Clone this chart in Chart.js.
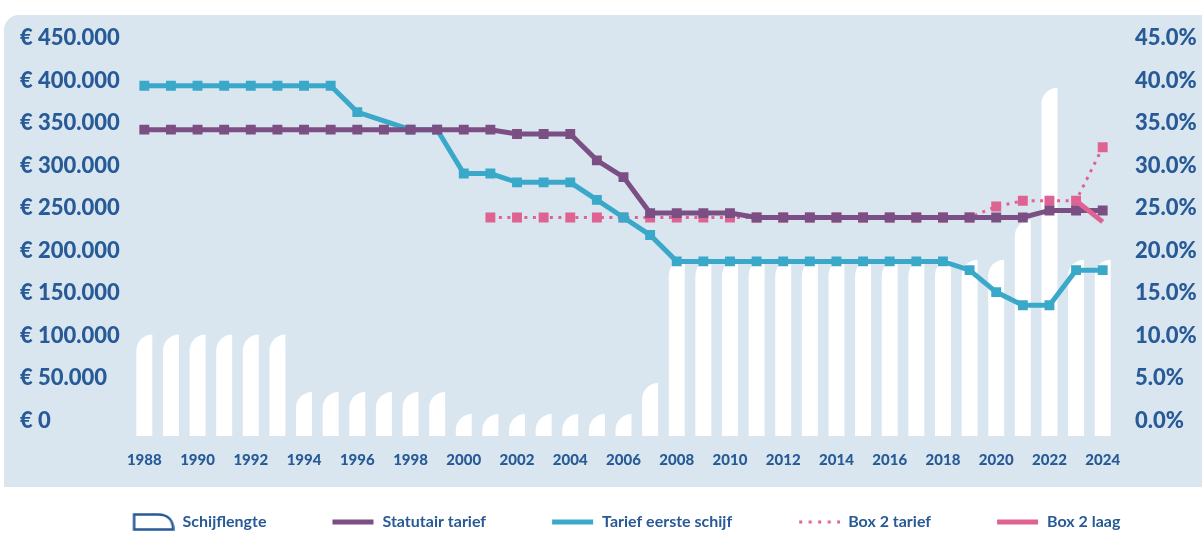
<!DOCTYPE html>
<html>
<head>
<meta charset="utf-8">
<script src="https://cdn.jsdelivr.net/npm/chart.js@4.4.1/dist/chart.umd.min.js"></script>
<style>
  html, body { margin: 0; padding: 0; background: #ffffff; }
  #wrap { width: 1202px; height: 552px; }
</style>
</head>
<body>
<div id="wrap"><canvas id="c" width="1202" height="552"></canvas></div>
<script>
// ---------- DATA ----------
const years = ['1988','1989','1990','1991','1992','1993','1994','1995','1996','1997',
  '1998','1999','2000','2001','2002','2003','2004','2005','2006','2007',
  '2008','2009','2010','2011','2012','2013','2014','2015','2016','2017',
  '2018','2019','2020','2021','2022','2023','2024'];

// Schijflengte (euro)
const schijflengte = [
  115000, 115000, 115000, 115000, 115000, 115000,
  50000, 50000, 50000, 50000, 50000, 50000,
  25000, 25000, 25000, 25000, 25000, 25000, 25000,
  60000,
  200000, 200000, 200000, 200000, 200000, 200000, 200000, 200000, 200000, 200000, 200000, 200000,
  200000, 245000, 395000, 200000, 200000
];

// Statutair tarief (%)
const statutairTarief = [
  35, 35, 35, 35, 35, 35, 35, 35, 35, 35, 35, 35, 35, 35,
  34.5, 34.5, 34.5, 31.5, 29.6,
  25.5, 25.5, 25.5, 25.5,
  25, 25, 25, 25, 25, 25, 25, 25, 25, 25, 25,
  25.8, 25.8, 25.8
];

// Tarief eerste schijf (%)
const tariefEersteSchijf = [
  40, 40, 40, 40, 40, 40, 40, 40,
  37, null, 35, 35,
  30, 30, 29, 29, 29, 27, 25, 23,
  20, 20, 20, 20, 20, 20, 20, 20, 20, 20, 20,
  19, 16.5, 15, 15, 19, 19
];

// Box 2 tarief (%)  (1988-2000 none, 2001-2019 25%, then 2020-2024)
const box2Tarief = [
  null, null, null, null, null, null, null, null, null, null, null, null, null,
  25, 25, 25, 25, 25, 25, 25, 25, 25, 25,
  25, 25, 25, 25, 25, 25, 25, 25, 25,
  26.25, 26.9, 26.9, 26.9, 33
];

// Box 2 laag (%)
const box2Laag = [
  null, null, null, null, null, null, null, null, null, null, null, null, null,
  null, null, null, null, null, null, null, null, null, null, null, null, null,
  null, null, null, null, null, null, null, null, null,
  26.9, 24.5
];

const euroTicks = [0, 50000, 100000, 150000, 200000, 250000, 300000, 350000, 400000, 450000];
const euroTickLabels = ['€ 0', '€ 50.000', '€ 100.000', '€ 150.000', '€ 200.000',
  '€ 250.000', '€ 300.000', '€ 350.000', '€ 400.000', '€ 450.000'];
const pctTicks = [0, 5, 10, 15, 20, 25, 30, 35, 40, 45];
const pctTickLabels = ['0.0%', '5.0%', '10.0%', '15.0%', '20.0%', '25.0%', '30.0%', '35.0%', '40.0%', '45.0%'];
const xTickLabels = years.map((y, i) => (i % 2 === 0 ? y : ''));

const seriesNames = ['Schijflengte', 'Statutair tarief', 'Tarief eerste schijf', 'Box 2 tarief', 'Box 2 laag'];

// ---------- STYLE ----------
const TEXT = '#275a96';
const PANEL = '#d9e6ef';
const PURPLE = '#7b4f83';
const TEAL = '#3aa9c9';
const PINK = '#df6392';
const FONT = 'Lato';

// Legend icons (canvas images)
function makeIcon(drawFn) {
  const cv = document.createElement('canvas');
  cv.width = 73; cv.height = 20;
  const c = cv.getContext('2d');
  drawFn(c);
  return cv;
}
const iconLeft = 31;
const legendIcons = [
  makeIcon(c => {
    c.strokeStyle = TEXT; c.lineWidth = 2.5; c.lineJoin = 'miter';
    const L = iconLeft + 1.5, R = iconLeft + 40.5, T = 2.5, B = 17.5;
    c.beginPath();
    c.moveTo(L, T);
    c.lineTo(R - 15, T);
    c.bezierCurveTo(R - 5, T, R, B - 9, R, B);
    c.lineTo(L, B);
    c.closePath();
    c.stroke();
  }),
  makeIcon(c => { c.fillStyle = PURPLE; c.fillRect(iconLeft, 7.5, 41, 5); }),
  makeIcon(c => { c.fillStyle = TEAL; c.fillRect(iconLeft, 7.5, 41, 5); }),
  makeIcon(c => {
    c.fillStyle = PINK;
    for (let k = 0; k < 5; k++) c.fillRect(iconLeft + 1 + k * 9.5, 8.5, 3, 3);
  }),
  makeIcon(c => { c.fillStyle = PINK; c.fillRect(iconLeft, 7.5, 41, 5); })
];

// Background panel
const panelPlugin = {
  id: 'panel',
  beforeDraw(chart) {
    const ctx = chart.ctx;
    const x0 = 4, y0 = 15, x1 = chart.width, y1 = 487, r = 15;
    ctx.save();
    ctx.fillStyle = PANEL;
    ctx.beginPath();
    ctx.moveTo(x0 + r, y0);
    ctx.lineTo(x1, y0);
    ctx.lineTo(x1, y1);
    ctx.lineTo(x0, y1);
    ctx.lineTo(x0, y0 + r);
    ctx.arcTo(x0, y0, x0 + r, y0, r);
    ctx.closePath();
    ctx.fill();
    ctx.restore();
  }
};

// Bars with a quarter-round top-left cap
const capBarsPlugin = {
  id: 'capBars',
  beforeDatasetDraw(chart, args) {
    if (args.meta.type !== 'bar') return;
    const ctx = chart.ctx;
    const ds = chart.data.datasets[args.index];
    ctx.save();
    ctx.fillStyle = ds.backgroundColor;
    args.meta.data.forEach(el => {
      const p = el.getProps(['x', 'y', 'base', 'width'], true);
      const left = p.x - p.width / 2, right = p.x + p.width / 2;
      const h = p.base - p.y;
      if (!(h > 0)) return;
      const ry = Math.min(p.width, h);
      ctx.beginPath();
      ctx.moveTo(left, p.base);
      ctx.lineTo(left, p.y + ry);
      ctx.ellipse(right, p.y + ry, p.width, ry, 0, Math.PI, Math.PI * 1.5);
      ctx.lineTo(right, p.base);
      ctx.closePath();
      ctx.fill();
    });
    ctx.restore();
    return false;
  }
};

const lineBase = {
  type: 'line',
  yAxisID: 'yL',
  borderWidth: 5,
  tension: 0,
  fill: false,
  pointStyle: 'rect',
  pointRadius: 7,
  pointBorderWidth: 0,
  pointHoverRadius: 7
};

const chart = new Chart(document.getElementById('c'), {
  type: 'bar',
  data: {
    labels: years,
    datasets: [
      {
        type: 'bar',
        label: seriesNames[0],
        data: schijflengte,
        yAxisID: 'yB',
        backgroundColor: '#ffffff',
        barPercentage: 0.6,
        categoryPercentage: 1.0,
        order: 5
      },
      Object.assign({}, lineBase, {
        label: seriesNames[1],
        data: statutairTarief,
        borderColor: PURPLE,
        backgroundColor: PURPLE,
        pointBackgroundColor: PURPLE,
        order: 2
      }),
      Object.assign({}, lineBase, {
        label: seriesNames[2],
        data: tariefEersteSchijf,
        borderColor: TEAL,
        backgroundColor: TEAL,
        pointBackgroundColor: TEAL,
        spanGaps: true,
        order: 3
      }),
      Object.assign({}, lineBase, {
        label: seriesNames[3],
        data: box2Tarief,
        borderColor: PINK,
        backgroundColor: PINK,
        pointBackgroundColor: PINK,
        borderWidth: 3,
        borderDash: [3, 5.5],
        order: 4
      }),
      Object.assign({}, lineBase, {
        label: seriesNames[4],
        data: box2Laag,
        borderColor: PINK,
        backgroundColor: PINK,
        pointRadius: 0,
        pointHoverRadius: 0,
        order: 1
      })
    ]
  },
  options: {
    responsive: false,
    animation: false,
    events: [],
    layout: { padding: { left: 20, right: 0, top: 30, bottom: 12 } },
    plugins: {
      tooltip: { enabled: false },
      legend: {
        position: 'bottom',
        align: 'center',
        labels: {
          usePointStyle: true,
          pointStyleWidth: 73,
          padding: 35,
          color: TEXT,
          font: { family: FONT, size: 16, weight: 'bold' },
          generateLabels: (ch) => ch.data.datasets.map((ds, i) => ({
            text: ds.label,
            pointStyle: legendIcons[i],
            fillStyle: 'rgba(0,0,0,0)',
            strokeStyle: 'rgba(0,0,0,0)',
            lineWidth: 0,
            fontColor: TEXT,
            hidden: false,
            datasetIndex: i
          }))
        }
      }
    },
    scales: {
      x: {
        type: 'category',
        offset: true,
        grid: { display: false, drawTicks: false },
        border: { display: false },
        ticks: {
          autoSkip: false,
          maxRotation: 0,
          minRotation: 0,
          padding: 14,
          color: TEXT,
          font: { family: FONT, size: 15, weight: '900' },
          callback: (v, i) => xTickLabels[i]
        },
        afterFit: (s) => { s.height = 42; }
      },
      y: {
        type: 'linear',
        position: 'left',
        min: -19107,
        max: 457000,
        grid: { display: false, drawTicks: false },
        border: { display: false },
        afterBuildTicks: (s) => { s.ticks = euroTicks.map(v => ({ value: v })); },
        ticks: {
          crossAlign: 'far',
          padding: 10,
          color: TEXT,
          font: { family: FONT, size: 22, weight: '900' },
          callback: (v, i) => euroTickLabels[i]
        },
        afterFit: (s) => { s.width = 111; }
      },
      y2: {
        type: 'linear',
        position: 'right',
        min: -1.9107,
        max: 45.7,
        grid: { display: false, drawTicks: false },
        border: { display: false },
        afterBuildTicks: (s) => { s.ticks = pctTicks.map(v => ({ value: v })); },
        ticks: {
          padding: 19,
          color: TEXT,
          font: { family: FONT, size: 22, weight: '900' },
          callback: (v, i) => pctTickLabels[i]
        },
        afterFit: (s) => { s.width = 86; }
      },
      yL: {
        type: 'linear',
        display: false,
        min: 0,
        max: 46.1
      },
      yB: {
        type: 'linear',
        display: false,
        min: -1130,
        max: 458000
      }
    }
  },
  plugins: [panelPlugin, capBarsPlugin]
});
</script>
</body>
</html>
